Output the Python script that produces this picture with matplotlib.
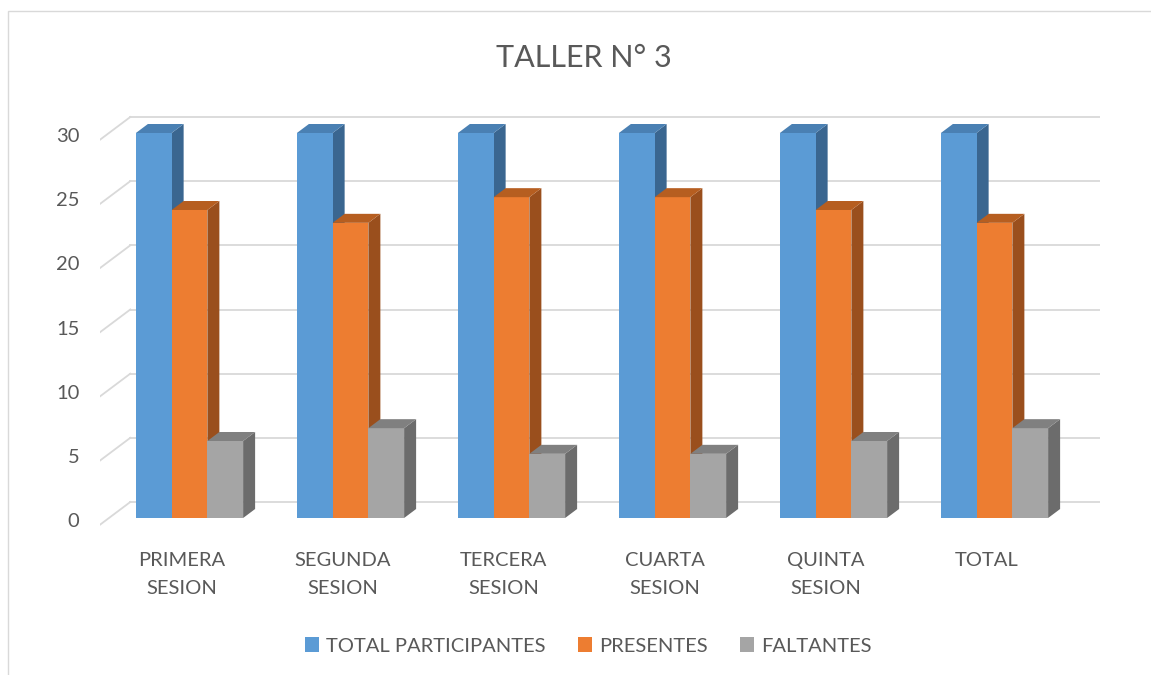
import matplotlib
matplotlib.use('Agg')
import matplotlib.pyplot as plt
import matplotlib.transforms as mtransforms
from matplotlib.patches import Polygon, Rectangle
from matplotlib.lines import Line2D

# ---------------- data ----------------
categories = ['PRIMERA\nSESION', 'SEGUNDA\nSESION', 'TERCERA\nSESION',
              'CUARTA\nSESION', 'QUINTA\nSESION', 'TOTAL']
series_names = ['TOTAL PARTICIPANTES', 'PRESENTES', 'FALTANTES']
total_participantes = [30, 30, 30, 30, 30, 30]
presentes = [24, 23, 25, 25, 24, 23]
faltantes = [6, 7, 5, 5, 6, 7]
y_ticks = [0, 5, 10, 15, 20, 25, 30]
title = 'TALLER N° 3'

series_values = [total_participantes, presentes, faltantes]

# ---------------- style ----------------
front_colors = ['#5b9bd5', '#ed7d31', '#a5a5a5']
side_colors = ['#3a6690', '#9a4f1d', '#6c6c6c']
top_colors = ['#4a80b3', '#b65e20', '#808080']
text_color = '#595959'
grid_color = '#d9d9d9'

plt.rcParams['font.family'] = ['Lato', 'DejaVu Sans']

W, H, DPI = 1151, 675, 100
fig = plt.figure(figsize=(W / DPI, H / DPI), dpi=DPI)


def px_box(left, top, right, bottom):
    return [left / W, 1 - bottom / H, (right - left) / W, (bottom - top) / H]


# axes region in pixels, and where the bar front plane maps
AX_L, AX_T, AX_R, AX_B = 100, 110, 1100, 530
G0_PX, G_STEP_PX = 189.5, 161.0      # centre of first group, group spacing
Y0_PX, Y30_PX = 518.0, 133.0         # value 0 and value 30 on bar fronts

ax = fig.add_axes(px_box(AX_L, AX_T, AX_R, AX_B))
ax.set_axis_off()
ppv = (Y0_PX - Y30_PX) / 30.0
ax.set_xlim((AX_L - G0_PX) / G_STEP_PX, (AX_R - G0_PX) / G_STEP_PX)
ax.set_ylim(-(AX_B - Y0_PX) / ppv, (Y0_PX - AX_T) / ppv)

# pixel -> data conversion derived from the axes' own transform
p = ax.transData.transform([(0, 0), (1, 1)])
sx = p[1, 0] - p[0, 0]
sy = p[1, 1] - p[0, 1]


def d(dx_px, dy_px):
    """image-pixel offset (y down) -> data offset"""
    return dx_px / sx, -dy_px / sy


BAR_DEPTH = d(12, -9)
FRONT_PLANE = d(-10.7, 8)
BACK_WALL = d(21.3, -16)
XL, XR = -0.5, 5.52
bar_w = 0.222

# ---------------- walls / gridlines ----------------
for v in y_ticks:
    bx0, by0 = XL + BACK_WALL[0], v + BACK_WALL[1]
    bx1 = XR + BACK_WALL[0]
    fx0, fy0 = XL + FRONT_PLANE[0], v + FRONT_PLANE[1]
    ax.add_line(Line2D([bx0, bx1], [by0, by0], color=grid_color, lw=1.3, zorder=1))
    ax.add_line(Line2D([fx0, bx0], [fy0, by0], color=grid_color, lw=1.3, zorder=1))

# ---------------- bars ----------------
n = len(categories)
offsets = [-bar_w, 0.0, bar_w]
handles = []
for j, vals in enumerate(series_values):
    xs = [i + offsets[j] for i in range(n)]
    bc = ax.bar(xs, vals, width=bar_w, color=front_colors[j], zorder=3,
                label=series_names[j], linewidth=0)
    handles.append(bc)
    for x, v in zip(xs, vals):
        x0, x1 = x - bar_w / 2, x + bar_w / 2
        ddx, ddy = BAR_DEPTH
        side = Polygon([(x1, 0), (x1, v), (x1 + ddx, v + ddy), (x1 + ddx, ddy)],
                       closed=True, facecolor=side_colors[j], edgecolor='none', zorder=2)
        top = Polygon([(x0, v), (x1, v), (x1 + ddx, v + ddy), (x0 + ddx, v + ddy)],
                      closed=True, facecolor=top_colors[j], edgecolor='none', zorder=4)
        ax.add_patch(side)
        ax.add_patch(top)

# ---------------- tick labels ----------------
tick_tr = ax.transData + mtransforms.ScaledTranslation(
    (-10.7 - 19) / DPI, -9 / DPI, fig.dpi_scale_trans)
for v in y_ticks:
    ax.text(XL, v, str(v), transform=tick_tr, ha='right', va='baseline',
            fontsize=14.5, color=text_color)

# ---------------- category labels ----------------
for i, cat in enumerate(categories):
    for k, line in enumerate(cat.split('\n')):
        tr = ax.transData + mtransforms.ScaledTranslation(
            -8 / DPI, -(48 + 28 * k) / DPI, fig.dpi_scale_trans)
        ax.text(i, 0, line, transform=tr, ha='center', va='baseline',
                fontsize=14.5, color=text_color)

# ---------------- title ----------------
fig.text(583.5 / W, 1 - 67 / H, title, ha='center', va='baseline',
         fontsize=22, color=text_color)

# ---------------- legend ----------------
fig.legend(handles=handles, labels=series_names, loc='center',
           bbox_to_anchor=(588 / W, 1 - 646 / H), ncol=3, frameon=False,
           fontsize=14.5, labelcolor=text_color, handlelength=0.7,
           handleheight=0.7, handletextpad=0.35, columnspacing=1.6)

# ---------------- chart border ----------------
fig.add_artist(Rectangle((8 / W, -0.05), 1.2, (H - 11) / H + 0.05,
                         transform=fig.transFigure, fill=False,
                         edgecolor='#d9d9d9', lw=1.0))

fig.savefig('out.png', dpi=DPI, facecolor='white')
